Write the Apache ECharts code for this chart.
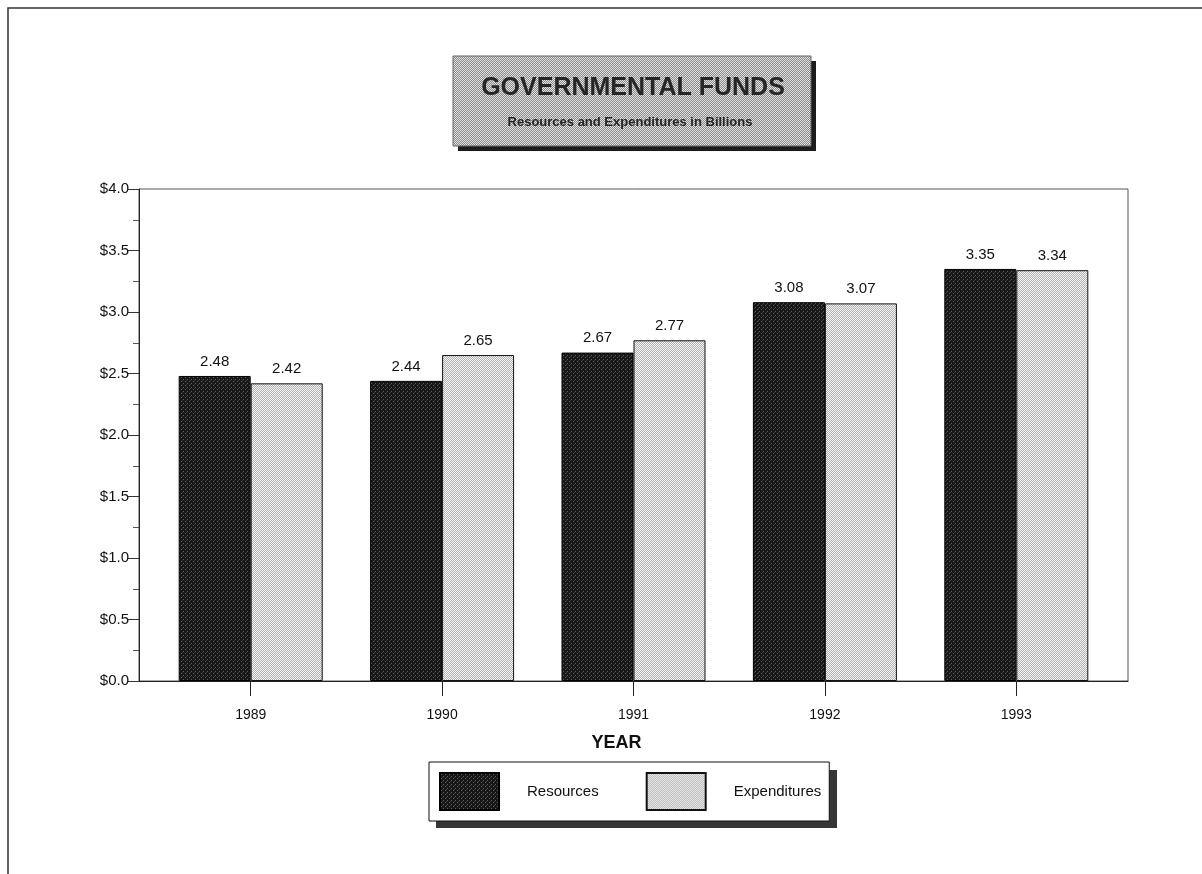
<!DOCTYPE html>
<html>
<head>
<meta charset="utf-8">
<title>Governmental Funds</title>
<script src="https://cdn.jsdelivr.net/npm/echarts@6/dist/echarts.min.js"></script>
<style>
  html, body { margin: 0; padding: 0; background: #fff; }
  #chart { width: 1202px; height: 874px; }
</style>
</head>
<body>
<div id="chart"></div>
<script>
// Fiscal years and amounts, in billions of dollars
const years = ['1989', '1990', '1991', '1992', '1993'];
const resources = [2.48, 2.44, 2.67, 3.08, 3.35];
const expenditures = [2.42, 2.65, 2.77, 3.07, 3.34];
const seriesNames = ['Resources', 'Expenditures'];
const yTicks = [0, 0.5, 1.0, 1.5, 2.0, 2.5, 3.0, 3.5, 4.0];

const FONT = '"Liberation Sans", Arial, Helvetica, sans-serif';

// Small halftone tiles used as repeating fills
function tile(size, pixels, base) {
  const c = document.createElement('canvas');
  c.width = size; c.height = size;
  const ctx = c.getContext('2d');
  ctx.fillStyle = base;
  ctx.fillRect(0, 0, size, size);
  pixels.forEach(function (p) {
    ctx.fillStyle = p[2];
    ctx.fillRect(p[0], p[1], 1, 1);
  });
  return { image: c, repeat: 'repeat' };
}
const darkFill = tile(4, [[1, 1, '#5c5c5c'], [3, 3, '#5c5c5c'], [2, 0, '#3a3a3a']], '#181818');
const lightFill = tile(2, [[0, 0, '#f6f6f6'], [1, 1, '#f6f6f6'], [1, 0, '#b0b0b0'], [0, 1, '#b0b0b0']], '#fff');
const titleFill = tile(2, [[0, 0, '#e2e2e2'], [1, 1, '#e2e2e2'], [1, 0, '#888888'], [0, 1, '#888888']], '#fff');

const chart = echarts.init(document.getElementById('chart'), null, { renderer: 'canvas' });

const valueLabel = {
  show: true,
  position: 'top',
  distance: 7,
  fontFamily: FONT,
  fontSize: 15,
  color: '#111',
  formatter: function (p) { return p.value.toFixed(2); }
};

chart.setOption({
  animation: false,
  backgroundColor: '#fff',
  textStyle: { fontFamily: FONT },
  grid: [
    // frame and value scale
    { left: 139, top: 189, width: 989, height: 492, show: true, borderColor: '#555', borderWidth: 1, backgroundColor: 'transparent' },
    // bars
    { left: 155, top: 189, width: 957, height: 492 }
  ],
  xAxis: [
    {
      gridIndex: 0, type: 'value', min: 0, max: 1,
      axisLine: { show: true, onZero: false, lineStyle: { color: '#222', width: 1 } },
      axisTick: { show: false }, axisLabel: { show: false }, splitLine: { show: false }
    },
    {
      gridIndex: 1, type: 'category', data: years,
      axisLine: { show: false },
      axisTick: { show: true, alignWithLabel: true, length: 15, lineStyle: { color: '#222' } },
      axisLabel: { fontFamily: FONT, fontSize: 14, color: '#111', margin: 27 },
      name: 'YEAR', nameLocation: 'middle', nameGap: 53,
      nameTextStyle: { fontFamily: FONT, fontSize: 18, fontWeight: 'bold', color: '#111', padding: [0, 34, 0, 0] }
    }
  ],
  yAxis: [
    {
      gridIndex: 0, type: 'value', min: 0, max: 4, interval: 0.5,
      axisLine: { show: true, lineStyle: { color: '#222', width: 1 } },
      axisTick: { show: true, length: 11, lineStyle: { color: '#333' } },
      minorTick: { show: true, splitNumber: 2, length: 6, lineStyle: { color: '#555' } },
      splitLine: { show: false },
      axisLabel: {
        fontFamily: FONT, fontSize: 15, color: '#111', margin: 10,
        formatter: function (v) { return '$' + v.toFixed(1); }
      }
    },
    { gridIndex: 1, type: 'value', min: 0, max: 4, show: false }
  ],
  legend: {
    data: seriesNames,
    left: 429, top: 762,
    orient: 'horizontal',
    padding: [10, 8, 10, 10],
    itemWidth: 59, itemHeight: 37, itemGap: 47,
    icon: 'rect',
    backgroundColor: '#fff',
    borderColor: '#111', borderWidth: 1,
    textStyle: { fontFamily: FONT, fontSize: 15, color: '#111', padding: [0, 0, 0, 23] },
    selectedMode: false
  },
  graphic: [
    // page frame
    { type: 'rect', z: -10, silent: true, shape: { x: 8, y: 8, width: 1220, height: 900 },
      style: { fill: 'none', stroke: '#333', lineWidth: 1.5 } },
    // legend drop shadow
    { type: 'rect', z: -5, silent: true, shape: { x: 436, y: 770, width: 401, height: 58 },
      style: { fill: '#363636' } },
    // title panel
    { type: 'rect', z: 1, silent: true, shape: { x: 458, y: 61, width: 358, height: 90 },
      style: { fill: '#1c1c1c' } },
    { type: 'rect', z: 2, silent: true, shape: { x: 453, y: 56, width: 358, height: 90 },
      style: { fill: titleFill, stroke: '#666', lineWidth: 1 } },
    { type: 'text', z: 3, silent: true, x: 633, y: 88,
      style: { text: 'GOVERNMENTAL FUNDS', font: 'bold 25px ' + FONT, fill: '#262626',
               align: 'center', verticalAlign: 'middle' } },
    { type: 'text', z: 3, silent: true, x: 630, y: 122,
      style: { text: 'Resources and Expenditures in Billions', font: 'bold 13px ' + FONT, fill: '#262626',
               align: 'center', verticalAlign: 'middle' } }
  ],
  series: [
    {
      name: seriesNames[0], type: 'bar', xAxisIndex: 1, yAxisIndex: 1,
      data: resources, barWidth: 72, barGap: '0%',
      itemStyle: { color: darkFill, borderColor: '#000', borderWidth: 1 },
      label: valueLabel
    },
    {
      name: seriesNames[1], type: 'bar', xAxisIndex: 1, yAxisIndex: 1,
      data: expenditures, barWidth: 72, barGap: '0%',
      itemStyle: { color: lightFill, borderColor: '#111', borderWidth: 1 },
      label: valueLabel
    }
  ]
});
</script>
</body>
</html>
